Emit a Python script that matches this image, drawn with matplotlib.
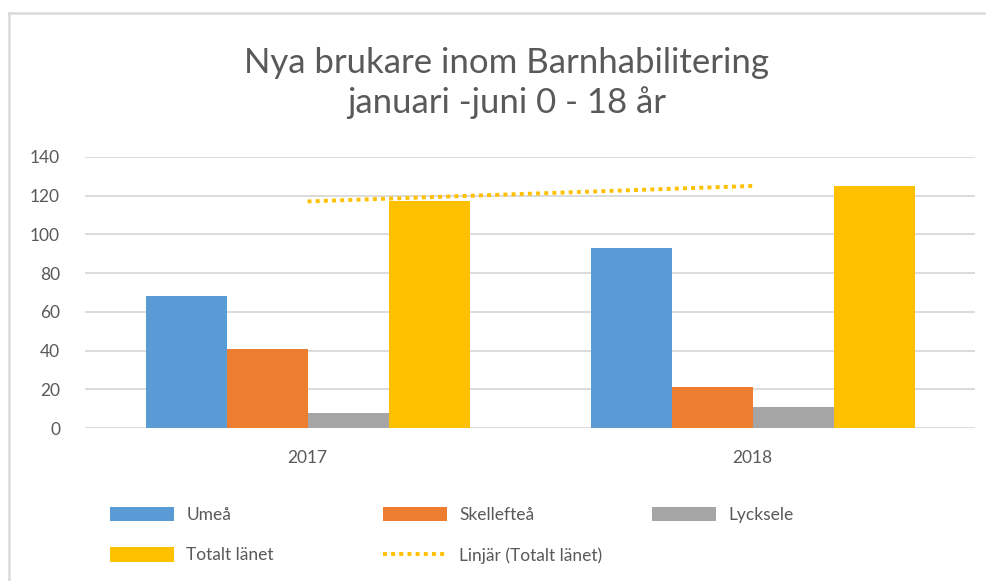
import numpy as np
import matplotlib.pyplot as plt
from matplotlib.lines import Line2D

years = ['2017', '2018']
umea = [68, 93]
skelleftea = [41, 21]
lycksele = [8, 11]
totalt = [117, 125]

series_names = ['Umeå', 'Skellefteå', 'Lycksele', 'Totalt länet']
colors = ['#5B9BD5', '#ED7D31', '#A5A5A5', '#FFC000']
txt = '#595959'

plt.rcParams['font.family'] = ['Lato', 'DejaVu Sans']

fig = plt.figure(figsize=(9.89, 5.81), dpi=100)
ax = fig.add_axes([0.086, 0.263, 0.900, 0.467])

x = np.arange(len(years))
w = 0.182
bars = []
for i, vals in enumerate([umea, skelleftea, lycksele, totalt]):
    b = ax.bar(x + (i - 1.5) * w, vals, w, color=colors[i], label=series_names[i], zorder=3)
    bars.append(b)

# linear trend of Totalt länet
k, m = np.polyfit(x, totalt, 1)
trend, = ax.plot(x, k * x + m, color='#FFC000', linestyle=(0, (1, 1.1)), linewidth=2.8,
                 label='Linjär (Totalt länet)', zorder=4)

ax.set_xlim(-0.5, 1.5)
ax.set_ylim(0, 140)
ax.set_yticks(np.arange(0, 141, 20))
ax.set_xticks(x)
ax.set_xticklabels(years)
ax.yaxis.grid(True, color='#D9D9D9', linewidth=1.3, zorder=0)
ax.set_axisbelow(True)
for s in ax.spines.values():
    s.set_visible(False)
ax.tick_params(axis='both', length=0, labelsize=12.5, labelcolor=txt)
ax.tick_params(axis='y', pad=18)
ax.tick_params(axis='x', pad=16)

fig.text(0.512, 0.857, 'Nya brukare inom Barnhabilitering\njanuari -juni 0 - 18 år',
         ha='center', va='center', fontsize=25, color=txt, linespacing=1.25)

# legend laid out in fixed columns like the original
columns = [([bars[0], bars[3]], 0.111), ([bars[1], trend], 0.387), ([bars[2]], 0.659)]
for hs, xpos in columns:
    leg = fig.legend(hs, [h.get_label() for h in hs], loc='upper left',
                     bbox_to_anchor=(xpos, 0.128), frameon=False, fontsize=12.5,
                     handlelength=3.7, handleheight=0.9, labelspacing=1.4,
                     handletextpad=0.7, borderpad=0, borderaxespad=0)
    for t in leg.get_texts():
        t.set_color(txt)

fig.add_artist(Line2D([0.0095, 0.0095], [0, 1 - 13 / 581], color='#D9D9D9', linewidth=1.8))
fig.add_artist(Line2D([0.0095, 0.995], [1 - 13 / 581, 1 - 13 / 581], color='#D9D9D9', linewidth=1.8))

fig.savefig('out.png', dpi=100)
